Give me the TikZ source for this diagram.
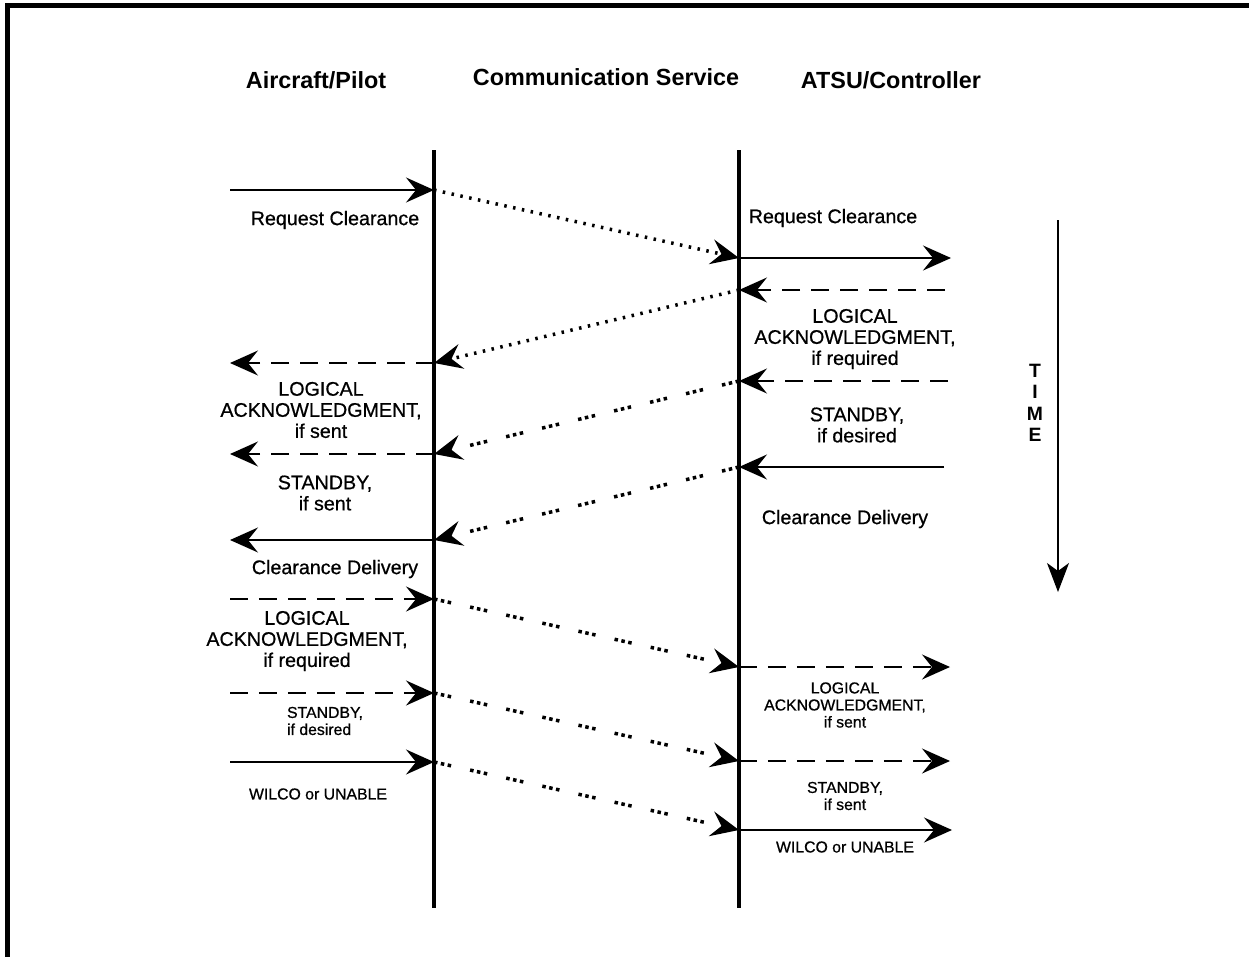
\documentclass[tikz,border=0pt]{standalone}
\usepackage{fontspec}
\setmainfont{Liberation Sans}
\newfontfamily\labelfont{Liberation Sans}[FakeBold=0.7]
\usetikzlibrary{arrows.meta}
\tikzstyle{lifeline} = [line width=2.1pt]
\tikzstyle{frameline} = [line width=2.3pt]
\tikzstyle{heading} = [font=\fontsize{13.3}{15}\selectfont\bfseries, inner sep=0pt]
\tikzstyle{biglabel} = [font=\labelfont\fontsize{11.2}{12}\selectfont, align=center, inner sep=0pt]
\tikzstyle{smalllabel} = [font=\labelfont\fontsize{9}{9.7}\selectfont, align=center, inner sep=0pt]
\tikzstyle{timelabel} = [font=\fontsize{11}{12.2}\selectfont\bfseries, align=center, inner sep=0pt]
\tikzstyle{msg} = [-{Stealth[length=0.56cm, width=0.5cm, inset=0.2cm]}, line width=0.9pt]
\tikzstyle{msgdash} = [msg, dash pattern=on 0.36cm off 0.22cm]
\tikzstyle{relay} = [msg, line width=2pt, dash pattern=on 0.05cm off 0.13cm]
\tikzstyle{relaygroup} = [msg, line width=2pt, dash pattern=on 0.07cm off 0.07cm on 0.07cm off 0.07cm on 0.07cm off 0.39cm]
\tikzstyle{timearrow} = [-{Stealth[length=0.58cm, width=0.44cm, inset=0.16cm]}, line width=0.7pt]

\begin{document}
\begin{tikzpicture}[x=0.02cm, y=-0.02cm]
    \useasboundingbox (0,0) rectangle (1249,957);
    % Frame
    \draw[frameline] (7.5,957) -- (7.5,5.5) -- (1249,5.5);

    % Headings
    \node[heading] (pilot) at (316,80) {Aircraft/Pilot};
    \node[heading] (comm) at (606,77) {Communication Service};
    \node[heading] (atsu) at (891,80) {ATSU/Controller};

    % Lifelines
    \coordinate (airTop) at (434,150);
    \coordinate (airBot) at (434,908);
    \coordinate (gndTop) at (739,150);
    \coordinate (gndBot) at (739,908);
    \draw[lifeline] (airTop) -- (airBot);
    \draw[lifeline] (gndTop) -- (gndBot);

    % Message ends
    \coordinate (a1) at (230,190);  \coordinate (c1) at (434,190);
    \coordinate (c2) at (739,258);  \coordinate (r2) at (951,258);
    \coordinate (r3) at (945,290);  \coordinate (c3) at (739,290);
    \coordinate (c4) at (434,363);  \coordinate (a4) at (230,363);
    \coordinate (r5) at (948,381);  \coordinate (c5) at (739,381);
    \coordinate (c6) at (434,454);  \coordinate (a6) at (230,454);
    \coordinate (r7) at (944,467);  \coordinate (c7) at (739,467);
    \coordinate (c8) at (434,540);  \coordinate (a8) at (230,540);
    \coordinate (a9) at (230,599);  \coordinate (c9) at (434,599);
    \coordinate (c10) at (739,667); \coordinate (r10) at (950,667);
    \coordinate (a11) at (230,693); \coordinate (c11) at (434,693);
    \coordinate (c12) at (739,761); \coordinate (r12) at (950,761);
    \coordinate (a13) at (230,762); \coordinate (c13) at (434,762);
    \coordinate (c14) at (739,830); \coordinate (r14) at (952,830);

    % Uplink request
    \draw[msg] (a1) -- (c1);
    \draw[relay] (c1) -- (c2);
    \draw[msg] (c2) -- (r2);
    \node[biglabel] (reqA) at (335,220) {Request Clearance};
    \node[biglabel] (reqG) at (833,218) {Request Clearance};

    % Downlink responses
    \draw[msgdash] (r3) -- (c3);
    \draw[relay] (c3) -- (c4);
    \draw[msgdash] (c4) -- (a4);
    \node[biglabel] (lackG) at (855,339) {LOGICAL\\ACKNOWLEDGMENT,\\if required};
    \node[biglabel] (lackA) at (321,410) {LOGICAL\\ACKNOWLEDGMENT,\\if sent};

    \draw[msgdash] (r5) -- (c5);
    \draw[relaygroup] (c5) -- (c6);
    \draw[msgdash] (c6) -- (a6);
    \node[biglabel] (stbyG) at (857,425) {STANDBY,\\ if desired};
    \node[biglabel] (stbyA) at (325,493) {STANDBY,\\ if sent};

    \draw[msg] (r7) -- (c7);
    \draw[relaygroup] (c7) -- (c8);
    \draw[msg] (c8) -- (a8);
    \node[biglabel] (delG) at (845,519) {Clearance Delivery};
    \node[biglabel] (delA) at (335,569) {Clearance Delivery};

    % Pilot replies
    \draw[msgdash] (a9) -- (c9);
    \draw[relaygroup] (c9) -- (c10);
    \draw[msgdash] (c10) -- (r10);
    \node[biglabel] (lackA2) at (307,641) {LOGICAL\\ACKNOWLEDGMENT,\\if required};
    \node[smalllabel] (lackG2) at (845,705) {LOGICAL\\ACKNOWLEDGMENT,\\if sent};

    \draw[msgdash] (a11) -- (c11);
    \draw[relaygroup] (c11) -- (c12);
    \draw[msgdash] (c12) -- (r12);
    \node[smalllabel, align=left] (stbyA2) at (325,721) {STANDBY,\\if desired};
    \node[smalllabel] (stbyG2) at (845,796) {STANDBY,\\if sent};

    \draw[msg] (a13) -- (c13);
    \draw[relaygroup] (c13) -- (c14);
    \draw[msg] (c14) -- (r14);
    \node[smalllabel] (wilA) at (318,794) {WILCO or UNABLE};
    \node[smalllabel] (wilG) at (845,847) {WILCO or UNABLE};

    % Time axis
    \coordinate (timeTop) at (1058,220);
    \coordinate (timeEnd) at (1058,592);
    \draw[timearrow] (timeTop) -- (timeEnd);
    \node[timelabel] (time) at (1035,403) {T\\I\\M\\E};
\end{tikzpicture}
\end{document}
